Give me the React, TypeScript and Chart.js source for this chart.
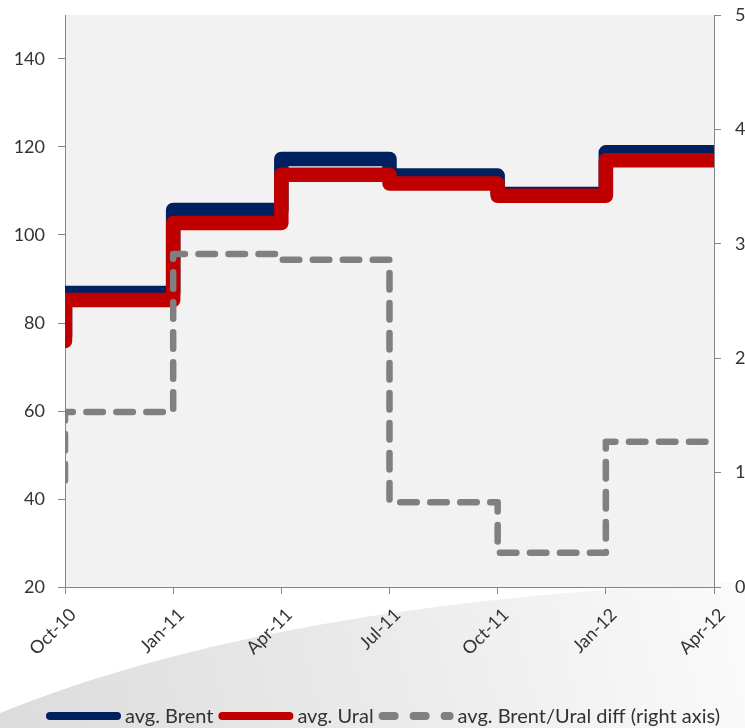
import { useEffect, useRef } from 'react';
import { Chart, registerables } from 'chart.js';

Chart.register(...registerables);

// Quarter tick labels on the horizontal axis (index 0..6)
const quarterLabels = ['Oct-10', 'Jan-11', 'Apr-11', 'Jul-11', 'Oct-11', 'Jan-12', 'Apr-12'];

// Quarter index at which each step value starts (first value is the opening level)
const stepPositions = [0, 0, 1, 2, 3, 4, 5, 6];

// Quarterly averages, USD per barrel
const brentAvg = [77.0, 86.8, 105.7, 117.3, 113.5, 109.3, 118.8, 118.8];
const uralAvg = [75.9, 85.2, 102.7, 113.7, 111.7, 108.9, 117.0, 117.0];

// Brent/Ural spread, right axis
const brentUralDiff = [0.93, 1.53, 2.91, 2.86, 0.74, 0.3, 1.27, 1.27];

const leftTicks = [20, 40, 60, 80, 100, 120, 140];
const rightTicks = [0, 1, 2, 3, 4, 5];

const FONT = 'Lato, "Open Sans", "DejaVu Sans", sans-serif';
const AXIS_GREY = '#868686';
const TEXT = '#333333';
const TICK_SIZE = 18;

const toPoints = (values: number[]) =>
  values.map((y, i) => ({ x: stepPositions[i], y }));

// White page with a soft grey sweep below the axis, plus the plot-area fill.
const backdrop = {
  id: 'backdrop',
  beforeDraw(chart: any) {
    const { ctx, width, height, chartArea: a } = chart;
    ctx.save();
    ctx.fillStyle = '#ffffff';
    ctx.fillRect(0, 0, width, height);

    const g = ctx.createLinearGradient(0, height, width, 560);
    g.addColorStop(0, '#dcdcdc');
    g.addColorStop(0.55, '#ececec');
    g.addColorStop(1, '#fbfbfb');
    ctx.beginPath();
    ctx.moveTo(0, height);
    ctx.lineTo(0, 713);
    ctx.bezierCurveTo(180, 640, 420, 595, width, 582);
    ctx.lineTo(width, height);
    ctx.closePath();
    ctx.fillStyle = g;
    ctx.fill();

    ctx.fillStyle = '#f2f2f2';
    ctx.fillRect(a.left, a.top, a.right - a.left, a.bottom - a.top);
    ctx.restore();
  },
};

// Legend row with long line samples, drawn under the axis labels.
const lineLegend = {
  id: 'lineLegend',
  afterDraw(chart: any, _args: any, opts: any) {
    const { ctx } = chart;
    const sample = opts.sampleWidth;
    const lw = opts.lineWidth;
    ctx.save();
    ctx.font = `${opts.fontSize}px ${FONT}`;
    ctx.textBaseline = 'middle';
    ctx.textAlign = 'left';
    const items = chart.data.datasets.map((ds: any) => ({
      text: ds.label as string,
      color: ds.borderColor as string,
      dashed: Array.isArray(ds.borderDash) && ds.borderDash.length > 0,
      w: ctx.measureText(ds.label).width,
    }));
    const total =
      items.reduce((s: number, it: any) => s + sample + opts.textGap + it.w, 0) +
      opts.itemGap * (items.length - 1);
    let x = opts.centerX - total / 2;
    const y = opts.y;
    items.forEach((it: any) => {
      ctx.beginPath();
      ctx.lineWidth = lw;
      ctx.lineCap = 'round';
      ctx.strokeStyle = it.color;
      ctx.setLineDash(it.dashed ? opts.dash : []);
      ctx.moveTo(x + lw / 2, y);
      ctx.lineTo(x + sample - lw / 2, y);
      ctx.stroke();
      ctx.setLineDash([]);
      ctx.fillStyle = TEXT;
      ctx.fillText(it.text, x + sample + opts.textGap, y + 1);
      x += sample + opts.textGap + it.w + opts.itemGap;
    });
    ctx.restore();
  },
};

// Value axes: no extra room above the top tick label.
const trimVerticalPadding = (s: any) => {
  s.paddingTop = 0;
  s.paddingBottom = 0;
};

export default function App() {
  const canvasRef = useRef<HTMLCanvasElement | null>(null);

  useEffect(() => {
    const canvas = canvasRef.current;
    if (!canvas) return;

    const common = {
      stepped: true,
      tension: 0,
      pointRadius: 0,
      pointHoverRadius: 0,
      borderJoinStyle: 'round' as const,
      borderCapStyle: 'round' as const,
      fill: false,
      clip: 0,
    };

    const axisGrid = {
      drawOnChartArea: false,
      drawTicks: true,
      tickLength: 7,
      color: AXIS_GREY,
    };

    const chart = new Chart(canvas, {
      type: 'line',
      data: {
        datasets: [
          {
            ...common,
            label: 'avg. Brent',
            data: toPoints(brentAvg),
            borderColor: '#002060',
            backgroundColor: '#002060',
            borderWidth: 14.5,
            yAxisID: 'y',
            order: 3,
          },
          {
            ...common,
            label: 'avg. Ural',
            data: toPoints(uralAvg),
            borderColor: '#c00000',
            backgroundColor: '#c00000',
            borderWidth: 14.5,
            yAxisID: 'y',
            order: 2,
          },
          {
            ...common,
            label: 'avg. Brent/Ural diff (right axis)',
            data: toPoints(brentUralDiff),
            borderColor: '#808080',
            backgroundColor: '#808080',
            borderWidth: 6.5,
            borderDash: [16.5, 13.5],
            yAxisID: 'y1',
            order: 1,
          },
        ],
      },
      options: {
        animation: false,
        responsive: false,
        events: [],
        layout: { padding: { top: 15, left: 0, right: 0, bottom: 0 } },
        plugins: {
          legend: { display: false },
          tooltip: { enabled: false },
          lineLegend: {
            sampleWidth: 75,
            lineWidth: 8,
            textGap: 4,
            itemGap: 5,
            fontSize: 20,
            centerX: 383,
            y: 716,
            dash: [12, 19],
          },
        } as any,
        scales: {
          x: {
            type: 'linear',
            min: 0,
            max: 6,
            afterBuildTicks: (s: any) => {
              s.ticks = quarterLabels.map((_, i) => ({ value: i }));
            },
            afterFit: (s: any) => {
              s.height = 728 - 587;
            },
            grid: axisGrid,
            border: { display: true, color: AXIS_GREY, width: 1 },
            ticks: {
              autoSkip: false,
              minRotation: 45,
              maxRotation: 45,
              padding: 10,
              labelOffset: 8,
              color: TEXT,
              font: { family: FONT, size: TICK_SIZE },
              callback: (v: any) => quarterLabels[Number(v)] ?? '',
            },
          },
          y: {
            type: 'linear',
            position: 'left',
            min: 20,
            max: 150,
            afterBuildTicks: (s: any) => {
              s.ticks = leftTicks.map((value) => ({ value }));
            },
            afterFit: (s: any) => {
              s.width = 65;
              trimVerticalPadding(s);
            },
            grid: axisGrid,
            border: { display: true, color: AXIS_GREY, width: 1 },
            ticks: {
              padding: 13,
              color: TEXT,
              font: { family: FONT, size: TICK_SIZE },
            },
          },
          y1: {
            type: 'linear',
            position: 'right',
            min: 0,
            max: 5,
            afterBuildTicks: (s: any) => {
              s.ticks = rightTicks.map((value) => ({ value }));
            },
            afterFit: (s: any) => {
              s.width = 745 - 714;
              trimVerticalPadding(s);
            },
            grid: axisGrid,
            border: { display: true, color: AXIS_GREY, width: 1 },
            ticks: {
              padding: 14,
              color: TEXT,
              font: { family: FONT, size: TICK_SIZE },
            },
          },
        },
      },
      plugins: [backdrop, lineLegend],
    });

    return () => chart.destroy();
  }, []);

  return (
    <div style={{ position: 'fixed', left: 0, top: 0, width: 745, height: 728, background: '#fff' }}>
      <canvas ref={canvasRef} width={745} height={728} style={{ display: 'block' }} />
    </div>
  );
}
